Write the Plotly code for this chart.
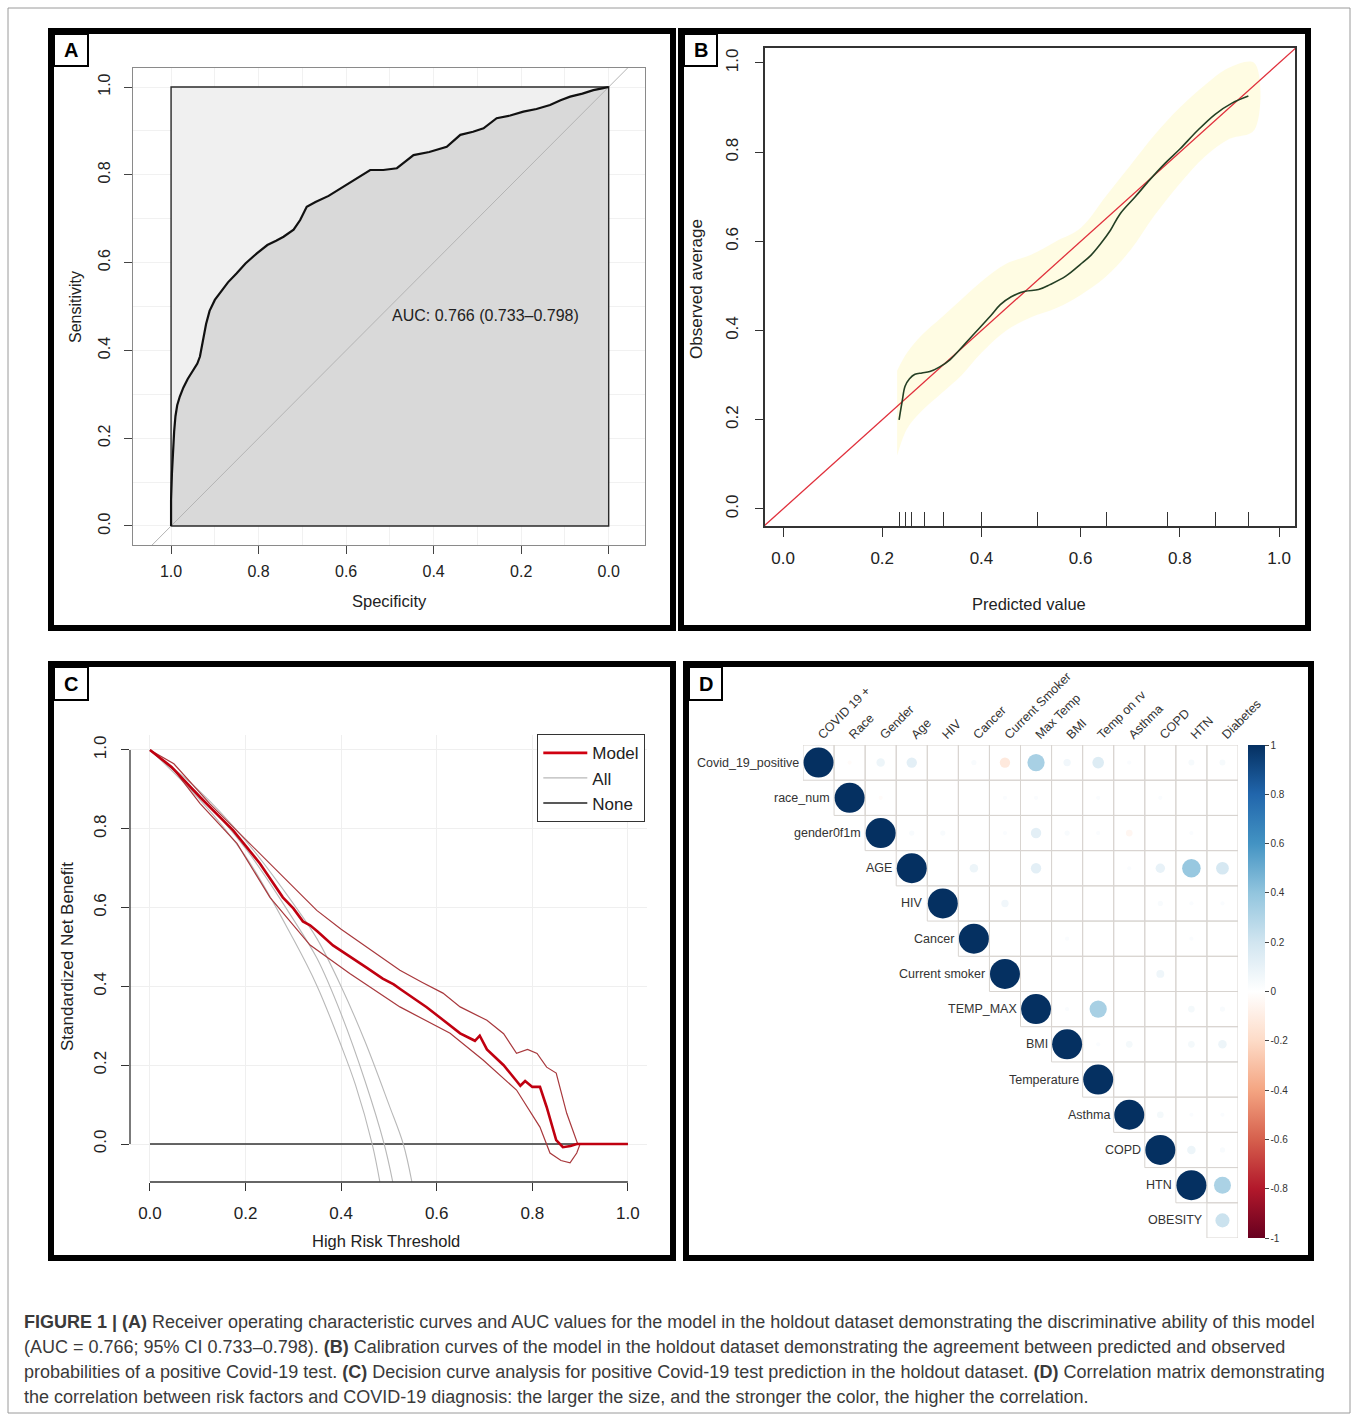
import math
import plotly.graph_objects as go

W, H = 1358, 1415
def px(x): return x / W
def py(y): return 1 - y / H

FONT = "Liberation Sans Narrow, Arial Narrow, Liberation Sans, Arial, sans-serif"
CAP_FONT = "Liberation Sans, Arial, sans-serif"

# ---------------- Panel A : ROC ----------------
roc_spec = [1.000, 1.000, 0.998, 0.996, 0.993, 0.990, 0.986, 0.980, 0.972, 0.962, 0.950, 0.940, 0.934, 0.928,
            0.920, 0.912, 0.900, 0.885, 0.870, 0.850, 0.830, 0.804, 0.780, 0.760, 0.743, 0.720, 0.705, 0.690,
            0.670, 0.640, 0.606, 0.575, 0.545, 0.515, 0.484, 0.465, 0.446, 0.410, 0.370, 0.339, 0.310, 0.286,
            0.256, 0.225, 0.195, 0.165, 0.134, 0.110, 0.088, 0.060, 0.035, 0.015, 0.004, 0.000]
roc_sens = [0.000, 0.060, 0.120, 0.175, 0.215, 0.250, 0.275, 0.295, 0.315, 0.335, 0.355, 0.370, 0.386, 0.420,
            0.460, 0.490, 0.515, 0.535, 0.555, 0.576, 0.598, 0.621, 0.640, 0.650, 0.659, 0.675, 0.697, 0.727,
            0.738, 0.752, 0.773, 0.792, 0.811, 0.811, 0.815, 0.830, 0.845, 0.852, 0.864, 0.891, 0.898, 0.906,
            0.929, 0.935, 0.944, 0.950, 0.959, 0.970, 0.978, 0.985, 0.993, 0.997, 1.000, 1.000]
rect_spec = [1, 1, 0, 0, 1]
rect_sens = [0, 1, 1, 0, 0]
diag_spec = [1.2, -0.2]
diag_sens = [-0.2, 1.2]
auc_text = "AUC: 0.766 (0.733\u20130.798)"
a_ticks = [0.0, 0.2, 0.4, 0.6, 0.8, 1.0]
a_ticktext = ["0.0", "0.2", "0.4", "0.6", "0.8", "1.0"]

# ---------------- Panel B : calibration ----------------
cal_x = [0.234, 0.240, 0.246, 0.255, 0.266, 0.280, 0.296, 0.315, 0.337, 0.365, 0.397, 0.420, 0.438, 0.460,
         0.488, 0.515, 0.538, 0.570, 0.599, 0.620, 0.639, 0.660, 0.679, 0.710, 0.740, 0.770, 0.800, 0.835,
         0.871, 0.905, 0.938]
cal_y = [0.200, 0.240, 0.275, 0.292, 0.302, 0.305, 0.308, 0.318, 0.335, 0.368, 0.407, 0.435, 0.458, 0.476,
         0.488, 0.492, 0.503, 0.522, 0.548, 0.568, 0.593, 0.625, 0.661, 0.700, 0.739, 0.775, 0.807, 0.848,
         0.885, 0.910, 0.926]
band_x = [0.23, 0.25, 0.28, 0.32, 0.36, 0.40, 0.45, 0.50, 0.55, 0.60, 0.65, 0.70, 0.75, 0.80, 0.85, 0.90, 0.95]
band_lo = [0.12, 0.18, 0.22, 0.26, 0.30, 0.35, 0.40, 0.43, 0.45, 0.48, 0.52, 0.58, 0.66, 0.73, 0.79, 0.83, 0.85]
band_hi = [0.31, 0.35, 0.39, 0.43, 0.47, 0.51, 0.55, 0.57, 0.60, 0.63, 0.70, 0.77, 0.84, 0.90, 0.95, 0.99, 1.00]
ideal_x = [-0.1, 1.1]
ideal_y = [-0.1, 1.1]
rug_x = [0.234, 0.246, 0.258, 0.286, 0.323, 0.401, 0.512, 0.653, 0.776, 0.871, 0.938]

# ---------------- Panel C : decision curve ----------------
model_x = [0, 0.045, 0.105, 0.174, 0.230, 0.278, 0.300, 0.320, 0.335, 0.350, 0.383, 0.420, 0.454, 0.487,
           0.510, 0.525, 0.550, 0.579, 0.610, 0.630, 0.649, 0.680, 0.690, 0.705, 0.740, 0.767, 0.775, 0.785,
           0.800, 0.816, 0.830, 0.850, 0.864, 0.880, 0.893, 1.0]
model_y = [1.0, 0.957, 0.880, 0.796, 0.712, 0.626, 0.598, 0.565, 0.555, 0.540, 0.504, 0.475, 0.447, 0.420,
           0.405, 0.392, 0.372, 0.347, 0.318, 0.300, 0.281, 0.262, 0.275, 0.240, 0.200, 0.160, 0.148, 0.160,
           0.145, 0.145, 0.094, 0.010, -0.008, -0.005, 0.0, 0.0]
model_hi_x = [0, 0.05, 0.125, 0.209, 0.265, 0.349, 0.400, 0.454, 0.523, 0.570, 0.613, 0.649, 0.680, 0.705,
              0.740, 0.767, 0.790, 0.810, 0.830, 0.850, 0.872, 0.895, 1.0]
model_hi_y = [1.0, 0.965, 0.864, 0.763, 0.695, 0.593, 0.545, 0.500, 0.441, 0.410, 0.383, 0.348, 0.330, 0.314,
              0.280, 0.230, 0.240, 0.230, 0.195, 0.180, 0.078, 0.0, 0.0]
model_lo_x = [0, 0.05, 0.105, 0.182, 0.251, 0.335, 0.418, 0.523, 0.628, 0.697, 0.767, 0.816, 0.837, 0.860,
              0.879, 0.893, 0.900, 1.0]
model_lo_y = [1.0, 0.950, 0.864, 0.763, 0.626, 0.505, 0.433, 0.348, 0.281, 0.213, 0.137, 0.043, -0.023,
              -0.042, -0.048, -0.023, 0.0, 0.0]
all_lo_x = [0, 0.1, 0.2, 0.3, 0.35, 0.4, 0.43, 0.465, 0.481]
all_lo_y = [1, 0.88, 0.73, 0.52, 0.40, 0.25, 0.15, 0.0, -0.096]
all_mid_x = [0, 0.1, 0.2, 0.3, 0.35, 0.4, 0.45, 0.49, 0.508]
all_mid_y = [1, 0.89, 0.75, 0.57, 0.47, 0.33, 0.16, 0.0, -0.096]
all_hi_x = [0, 0.1, 0.2, 0.3, 0.35, 0.4, 0.45, 0.5, 0.53, 0.548]
all_hi_y = [1, 0.90, 0.77, 0.61, 0.52, 0.40, 0.26, 0.10, 0.0, -0.096]
none_x = [0, 1]
none_y = [0, 0]
c_ticks = [0.0, 0.2, 0.4, 0.6, 0.8, 1.0]
c_ticktext = ["0.0", "0.2", "0.4", "0.6", "0.8", "1.0"]

# ---------------- Panel D : correlation matrix ----------------
row_labels = ["Covid_19_positive", "race_num", "gender0f1m", "AGE", "HIV", "Cancer", "Current smoker",
              "TEMP_MAX", "BMI", "Temperature", "Asthma", "COPD", "HTN", "OBESITY"]
col_labels = ["COVID 19 +", "Race", "Gender", "Age", "HIV", "Cancer", "Current Smoker", "Max Temp", "BMI",
              "Temp on rv", "Asthma", "COPD", "HTN", "Diabetes"]
# upper-triangle values, row i holds columns i..13
corr_rows = [
    [1, -0.02, 0.08, 0.12, 0.0, 0.03, -0.12, 0.33, 0.06, 0.15, 0.02, 0.0, 0.04, 0.04],
    [1, -0.02, 0.0, 0.0, 0.0, 0.02, 0.02, 0.0, 0.02, 0.0, 0.02, 0.0, 0.0],
    [1, 0.03, 0.03, 0.0, 0.02, 0.12, 0.03, 0.02, -0.05, 0.0, 0.02, 0.0],
    [1, 0.0, 0.08, 0.0, 0.12, 0.0, 0.0, 0.02, 0.10, 0.38, 0.18],
    [1, 0.0, 0.06, 0.0, 0.0, 0.0, 0.0, 0.03, 0.02, 0.02],
    [1, 0.0, 0.0, 0.02, 0.0, 0.0, 0.0, 0.02, 0.0],
    [1, 0.0, 0.0, 0.0, 0.0, 0.07, 0.0, 0.0],
    [1, 0.02, 0.33, 0.0, 0.0, 0.05, 0.03],
    [1, 0.02, 0.05, 0.0, 0.05, 0.08],
    [1, 0.0, 0.0, 0.0, 0.0],
    [1, 0.05, 0.02, 0.02],
    [1, 0.08, 0.03],
    [1, 0.32],
    [0.22],
]
cbar_vals = [1, 0.8, 0.6, 0.4, 0.2, 0, -0.2, -0.4, -0.6, -0.8, -1]
cbar_text = ["1", "0.8", "0.6", "0.4", "0.2", "0", "-0.2", "-0.4", "-0.6", "-0.8", "-1"]
RDBU = [[0.0, "#67001F"], [0.1, "#B2182B"], [0.2, "#D6604D"], [0.3, "#F4A582"], [0.4, "#FDDBC7"],
        [0.5, "#FFFFFF"], [0.6, "#D1E5F0"], [0.7, "#92C5DE"], [0.8, "#4393C3"], [0.9, "#2166AC"],
        [1.0, "#053061"]]

caption_lines = [
    "<b>FIGURE 1 | (A)</b> Receiver operating characteristic curves and AUC values for the model in the holdout dataset demonstrating the discriminative ability of this model",
    "(AUC = 0.766; 95% CI 0.733\u20130.798). <b>(B)</b> Calibration curves of the model in the holdout dataset demonstrating the agreement between predicted and observed",
    "probabilities of a positive Covid-19 test. <b>(C)</b> Decision curve analysis for positive Covid-19 test prediction in the holdout dataset. <b>(D)</b> Correlation matrix demonstrating",
    "the correlation between risk factors and COVID-19 diagnosis: the larger the size, and the stronger the color, the higher the correlation.",
]

fig = go.Figure()
NOHOV = dict(hoverinfo="skip", showlegend=False)

# ---- A traces
fig.add_trace(go.Scatter(x=rect_spec, y=rect_sens, mode="lines", fill="toself", fillcolor="#f0f0f0",
                         line=dict(width=0), xaxis="x", yaxis="y", **NOHOV))
fig.add_trace(go.Scatter(x=roc_spec, y=roc_sens, mode="lines", fill="tozeroy", fillcolor="#d9d9d9",
                         line=dict(width=0), xaxis="x", yaxis="y", **NOHOV))
fig.add_trace(go.Scatter(x=diag_spec, y=diag_sens, mode="lines", line=dict(color="#b4b4b4", width=1),
                         xaxis="x", yaxis="y", **NOHOV))
fig.add_trace(go.Scatter(x=rect_spec, y=rect_sens, mode="lines", line=dict(color="#2a2a2a", width=1.4),
                         xaxis="x", yaxis="y", **NOHOV))
fig.add_trace(go.Scatter(x=roc_spec, y=roc_sens, mode="lines", line=dict(color="#111111", width=2.2),
                         xaxis="x", yaxis="y", **NOHOV))

# ---- B traces
fig.add_trace(go.Scatter(x=band_x + band_x[::-1], y=band_hi + band_lo[::-1], mode="lines", fill="toself",
                         fillcolor="rgba(255,250,200,0.5)", line=dict(width=0, shape="spline"),
                         xaxis="x2", yaxis="y2", **NOHOV))
fig.add_trace(go.Scatter(x=ideal_x, y=ideal_y, mode="lines", line=dict(color="#e0303c", width=1.3),
                         xaxis="x2", yaxis="y2", **NOHOV))
fig.add_trace(go.Scatter(x=cal_x, y=cal_y, mode="lines", line=dict(color="#243f24", width=1.6, shape="spline"),
                         xaxis="x2", yaxis="y2", **NOHOV))
fig.add_trace(go.Scatter(x=rug_x, y=[None] * len(rug_x), mode="markers", xaxis="x5", yaxis="y2", **NOHOV))

# ---- C traces
fig.add_trace(go.Scatter(x=none_x, y=none_y, mode="lines", line=dict(color="#333333", width=1.3),
                         name="None", xaxis="x3", yaxis="y3", hoverinfo="skip", showlegend=False))
for ax_, ay_ in [(all_lo_x, all_lo_y), (all_mid_x, all_mid_y), (all_hi_x, all_hi_y)]:
    fig.add_trace(go.Scatter(x=ax_, y=ay_, mode="lines", line=dict(color="#b8b8b8", width=1.1, shape="spline"),
                             name="All", showlegend=False, xaxis="x3", yaxis="y3", hoverinfo="skip"))
fig.add_trace(go.Scatter(x=model_hi_x, y=model_hi_y, mode="lines", line=dict(color="#a8383c", width=1.2),
                         xaxis="x3", yaxis="y3", **NOHOV))
fig.add_trace(go.Scatter(x=model_lo_x, y=model_lo_y, mode="lines", line=dict(color="#a8383c", width=1.2),
                         xaxis="x3", yaxis="y3", **NOHOV))
fig.add_trace(go.Scatter(x=model_x, y=model_y, mode="lines", line=dict(color="#c00010", width=2.6),
                         xaxis="x3", yaxis="y3", hoverinfo="skip", showlegend=False))
# legend entries
fig.add_trace(go.Scatter(x=[None], y=[None], mode="lines", line=dict(color="#d00010", width=2.6), name="Model",
                         xaxis="x3", yaxis="y3", hoverinfo="skip"))
fig.add_trace(go.Scatter(x=[None], y=[None], mode="lines", line=dict(color="#b8b8b8", width=1.3), name="All",
                         xaxis="x3", yaxis="y3", hoverinfo="skip"))
fig.add_trace(go.Scatter(x=[None], y=[None], mode="lines", line=dict(color="#222222", width=1.5), name="None",
                         xaxis="x3", yaxis="y3", hoverinfo="skip"))

# ---- D traces
n = len(row_labels)
gx, gy = [], []
for i in range(n):
    for j in range(i, n):
        x0, x1, y0, y1 = j - 0.5, j + 0.5, i - 0.5, i + 0.5
        gx += [x0, x1, x1, x0, x0, None]
        gy += [y0, y0, y1, y1, y0, None]
fig.add_trace(go.Scatter(x=gx, y=gy, mode="lines", line=dict(color="#d8d4d0", width=1),
                         xaxis="x4", yaxis="y4", **NOHOV))
dx, dy, dv, ds = [], [], [], []
for i, row in enumerate(corr_rows):
    for k, v in enumerate(row):
        j = n - len(row) + k
        if abs(v) < 0.01:
            continue
        dx.append(j); dy.append(i); dv.append(v); ds.append(30 * math.sqrt(abs(v)))
fig.add_trace(go.Scatter(
    x=dx, y=dy, mode="markers", xaxis="x4", yaxis="y4", hoverinfo="skip", showlegend=False,
    marker=dict(size=ds, color=dv, colorscale=RDBU, cmin=-1, cmax=1, opacity=1, line=dict(width=0),
                showscale=True,
                colorbar=dict(x=px(1248), xanchor="left", y=py((745 + 1238) / 2), yanchor="middle",
                              len=(1238 - 745) / H, lenmode="fraction", thickness=17, outlinewidth=0,
                              xpad=0, ypad=0, tickvals=cbar_vals, ticktext=cbar_text, ticks="outside",
                              ticklen=4, tickcolor="#444",
                              tickfont=dict(family=FONT, size=10, color="#333")))))

# ---------------- axes ----------------
tick_font = dict(family=FONT, size=16, color="#222")
base = dict(zeroline=False, fixedrange=True)

layout_axes = dict(
    xaxis=dict(domain=[px(133), px(645)], range=[1.087, -0.083], anchor="y", tickvals=a_ticks,
               ticktext=a_ticktext, ticks="outside", ticklen=8, tickcolor="#444", showline=True, mirror=True,
               linecolor="#8a8a8a", linewidth=1, showgrid=True, gridcolor="#f1f1f1",
               minor=dict(dtick=0.1, showgrid=True, gridcolor="#f1f1f1"), tickfont=tick_font,
               ticklabelstandoff=4, **base),
    yaxis=dict(domain=[py(545), py(68)], range=[-0.0433, 1.0433], anchor="x", tickvals=a_ticks,
               ticktext=a_ticktext, ticks="outside", ticklen=8, tickcolor="#444", showline=True, mirror=True,
               linecolor="#8a8a8a", linewidth=1, showgrid=True, gridcolor="#f1f1f1",
               minor=dict(dtick=0.1, showgrid=True, gridcolor="#f1f1f1"), tickangle=-90,
               tickfont=tick_font, ticklabelstandoff=8, **base),
    xaxis2=dict(domain=[px(765), px(1295)], range=[-0.0363, 1.032], anchor="y2", tickvals=c_ticks,
                ticktext=c_ticktext, ticks="outside", ticklen=9, tickcolor="#333", showline=True, mirror=True,
                linecolor="#333", linewidth=1.5, showgrid=False, tickfont=dict(family=FONT, size=17, color="#222"),
                ticklabelstandoff=7, **base),
    yaxis2=dict(domain=[py(526), py(48)], range=[-0.0382, 1.0336], anchor="x2", tickvals=c_ticks,
                ticktext=c_ticktext, ticks="outside", ticklen=8, tickcolor="#333", showline=True, mirror=True,
                linecolor="#333", linewidth=1.5, showgrid=False, tickangle=-90,
                tickfont=dict(family=FONT, size=17, color="#222"), ticklabelstandoff=10, **base),
    xaxis5=dict(overlaying="x2", anchor="y2", range=[-0.0363, 1.032], tickvals=rug_x, ticks="inside",
                ticklen=14, tickcolor="#333", tickwidth=1.3, showticklabels=False, showgrid=False,
                showline=False, side="bottom", **base),
    xaxis3=dict(domain=[px(130), px(647)], range=[-0.0418, 1.04], anchor="y3", tickvals=c_ticks,
                ticktext=c_ticktext, ticks="outside", ticklen=8, tickcolor="#333", showline=False,
                showgrid=True, gridcolor="#efefef", tickfont=dict(family=FONT, size=17, color="#222"),
                ticklabelstandoff=8, **base),
    yaxis3=dict(domain=[py(1182), py(735)], range=[-0.0964, 1.038], anchor="x3", tickvals=c_ticks,
                ticktext=c_ticktext, ticks="outside", ticklen=8, tickcolor="#333", showline=False,
                showgrid=True, gridcolor="#efefef", tickangle=-90,
                tickfont=dict(family=FONT, size=17, color="#222"), ticklabelstandoff=8, **base),
    xaxis4=dict(domain=[px(803), px(1238)], range=[-0.5, 13.5], anchor="y4", side="top",
                tickvals=list(range(n)), ticktext=col_labels, tickangle=-45, ticks="", showgrid=False,
                showline=False, tickfont=dict(family=FONT, size=12.5, color="#333"), **base),
    yaxis4=dict(domain=[py(1238), py(745)], range=[13.5, -0.5], anchor="x4", showticklabels=False,
                ticks="", showgrid=False, showline=False, **base),
)

# ---------------- shapes ----------------
shapes = []
shapes.append(dict(type="rect", xref="paper", yref="paper", x0=px(8), x1=px(1350), y0=py(1413), y1=py(8),
                   line=dict(color="#9a9a9a", width=1)))
frames = [(51, 31, 673, 628), (681, 31, 1308, 628), (51, 664, 673, 1258), (686, 664, 1311, 1258)]
for (x0, y0, x1, y1) in frames:
    shapes.append(dict(type="rect", xref="paper", yref="paper", x0=px(x0), x1=px(x1), y0=py(y1), y1=py(y0),
                       line=dict(color="#000", width=6)))
boxes = [("A", 54, 34, 88, 66), ("B", 684, 34, 717, 66), ("C", 54, 667, 88, 700), ("D", 689, 667, 722, 700)]
for (_, x0, y0, x1, y1) in boxes:
    shapes.append(dict(type="rect", xref="paper", yref="paper", x0=px(x0), x1=px(x1), y0=py(y1), y1=py(y0),
                       line=dict(color="#000", width=2), fillcolor="white"))
shapes.append(dict(type="line", xref="x3", yref="paper", x0=0, x1=1, y0=py(1182), y1=py(1182),
                   line=dict(color="#333", width=1.3)))
shapes.append(dict(type="line", xref="paper", yref="y3", x0=px(130), x1=px(130), y0=0, y1=1,
                   line=dict(color="#333", width=1.3)))

# ---------------- annotations ----------------
ann = []
for (lab, x0, y0, x1, y1) in boxes:
    ann.append(dict(text="<b>%s</b>" % lab, xref="paper", yref="paper", x=px((x0 + x1) / 2),
                    y=py((y0 + y1) / 2), xanchor="center", yanchor="middle", showarrow=False,
                    font=dict(family="Liberation Sans, Arial, sans-serif", size=20, color="#000")))

def title(text, x, y, angle=0, size=17):
    ann.append(dict(text=text, xref="paper", yref="paper", x=px(x), y=py(y), xanchor="center",
                    yanchor="middle", showarrow=False, textangle=angle,
                    font=dict(family=FONT, size=size, color="#222")))

title("Sensitivity", 75, 307, -90, 16)
title("Specificity", 389, 601, 0, 16.5)
title("Observed average", 697, 289, -90, 17)
title("Predicted value", 1029, 604, 0, 16.5)
title("Standardized Net Benefit", 67, 957, -90, 17)
title("High Risk Threshold", 386, 1241, 0, 16.5)

ann.append(dict(text=auc_text, xref="x", yref="y", x=0.5, y=0.48, xanchor="left", yanchor="middle",
                showarrow=False, font=dict(family=FONT, size=16, color="#222")))

for i, lab in enumerate(row_labels):
    ann.append(dict(text=lab, xref="x4", yref="y4", x=i - 0.5, y=i, xanchor="right", yanchor="middle",
                    xshift=-2, showarrow=False, font=dict(family=FONT, size=12.5, color="#333")))

for k, line in enumerate(caption_lines):
    ann.append(dict(text=line, xref="paper", yref="paper", x=px(22), y=py(1322 + 25 * k), xanchor="left",
                    yanchor="middle", showarrow=False, align="left",
                    font=dict(family=CAP_FONT, size=18, color="#3a3a3a")))

fig.update_layout(
    width=W, height=H, margin=dict(l=0, r=0, t=0, b=0, pad=0, autoexpand=False),
    paper_bgcolor="white", plot_bgcolor="white", autosize=False,
    shapes=shapes, annotations=ann,
    legend=dict(x=px(537), y=py(734), xanchor="left", yanchor="top", bordercolor="#333", borderwidth=1.3,
                bgcolor="white", font=dict(family=FONT, size=17, color="#222"), tracegroupgap=0,
                itemwidth=44),
    **layout_axes,
)

fix_page = ("document.documentElement.style.margin='0';document.body.style.margin='0';"
            "document.body.style.overflow='hidden';"
            "var gd=document.getElementById('{plot_id}');"
            "Plotly.relayout(gd,{width:1358,height:1415});")
fig.write_html("out.html", post_script=fix_page, config={"displayModeBar": False, "responsive": False})
